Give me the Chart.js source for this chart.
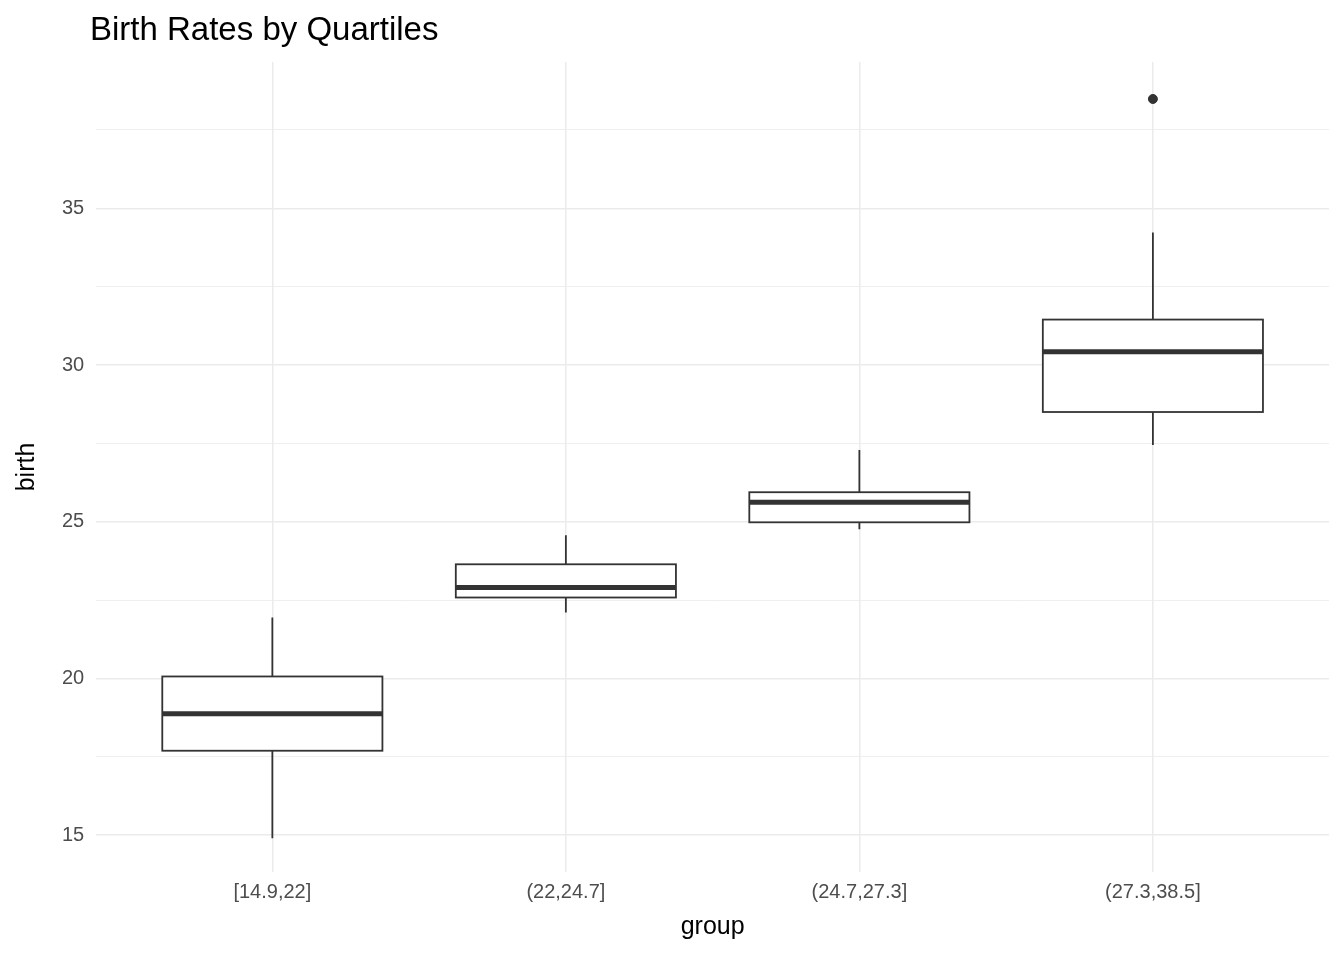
<!DOCTYPE html>
<html><head><meta charset="utf-8">
<script src="https://cdn.jsdelivr.net/npm/chart.js@4"></script>
<style>
body{margin:0;background:#fff;}
#wrap{position:relative;width:1344px;height:960px;}
#title{position:absolute;left:90px;top:10px;font:33px "Liberation Sans",Arial,sans-serif;color:#000;}
</style></head>
<body><div id="wrap"><div id="title">Birth Rates by Quartiles</div><canvas id="c" width="1344" height="960"></canvas></div>
<script>
var groups = ['[14.9,22]', '(22,24.7]', '(24.7,27.3]', '(27.3,38.5]'];
var lowWhisker = [14.9, 22.1, 24.76, 27.45];
var q1 = [17.69, 22.58, 24.98, 28.5];
var median = [18.87, 22.9, 25.62, 30.42];
var q3 = [20.06, 23.64, 25.94, 31.45];
var highWhisker = [21.94, 24.57, 27.29, 34.23];
var outliers = [{x: 3, y: 38.49}];

var boxPlugin = {
    id: 'boxes',
    afterDatasetsDraw: function(chart) {
        var ctx = chart.ctx, xs = chart.scales.x, ys = chart.scales.y;
        var half = (xs.getPixelForValue(0.375) - xs.getPixelForValue(0));
        ctx.save();
        ctx.strokeStyle = '#333333';
        for (var i = 0; i < groups.length; i++) {
            var cx = xs.getPixelForValue(i);
            ctx.lineWidth = 1.8;
            ctx.beginPath();
            ctx.moveTo(cx, ys.getPixelForValue(lowWhisker[i]));
            ctx.lineTo(cx, ys.getPixelForValue(q1[i]));
            ctx.moveTo(cx, ys.getPixelForValue(q3[i]));
            ctx.lineTo(cx, ys.getPixelForValue(highWhisker[i]));
            ctx.stroke();
            var top = ys.getPixelForValue(q3[i]), bot = ys.getPixelForValue(q1[i]);
            ctx.fillStyle = '#ffffff';
            ctx.fillRect(cx - half, top, half * 2, bot - top);
            ctx.strokeRect(cx - half, top, half * 2, bot - top);
            ctx.lineWidth = 5;
            ctx.beginPath();
            var m = ys.getPixelForValue(median[i]);
            ctx.moveTo(cx - half, m);
            ctx.lineTo(cx + half, m);
            ctx.stroke();
        }
        ctx.restore();
    }
};

new Chart(document.getElementById('c'), {
    type: 'scatter',
    data: {
        datasets: [{
            data: outliers,
            backgroundColor: '#333333',
            borderColor: '#333333',
            pointRadius: 4.5
        }]
    },
    options: {
        responsive: false,
        animation: false,
        layout: {padding: {top: 62, right: 15, left: 8, bottom: 14}},
        plugins: {legend: {display: false}, tooltip: {enabled: false}},
        scales: {
            x: {
                type: 'linear', min: -0.6, max: 3.6,
                afterBuildTicks: function(s) { s.ticks = [0, 1, 2, 3].map(function(v){ return {value: v}; }); },
                ticks: {
                    callback: function(v) { return groups[v]; },
                    color: '#4D4D4D', font: {size: 20, family: 'Liberation Sans'}, padding: 8
                },
                grid: {color: '#EBEBEB', lineWidth: 1.5, drawTicks: false},
                border: {display: false},
                title: {display: true, text: 'group', color: '#000', font: {size: 25, family: 'Liberation Sans'}, padding: {top: 0}}
            },
            y: {
                min: 13.82, max: 39.67,
                afterBuildTicks: function(s) { var t = []; for (var v = 15; v <= 37.5; v += 2.5) t.push({value: v}); s.ticks = t; },
                ticks: {
                    callback: function(v) { return v % 5 === 0 ? v : ''; },
                    color: '#4D4D4D', font: {size: 20, family: 'Liberation Sans'}, padding: 12
                },
                grid: {
                    color: '#EBEBEB',
                    lineWidth: function(c) { return c.tick && c.tick.value % 5 === 0 ? 1.5 : 0.8; },
                    drawTicks: false
                },
                border: {display: false},
                title: {display: true, text: 'birth', color: '#000', font: {size: 25, family: 'Liberation Sans'}, padding: {bottom: 8}}
            }
        }
    },
    plugins: [boxPlugin]
});
</script></body></html>
